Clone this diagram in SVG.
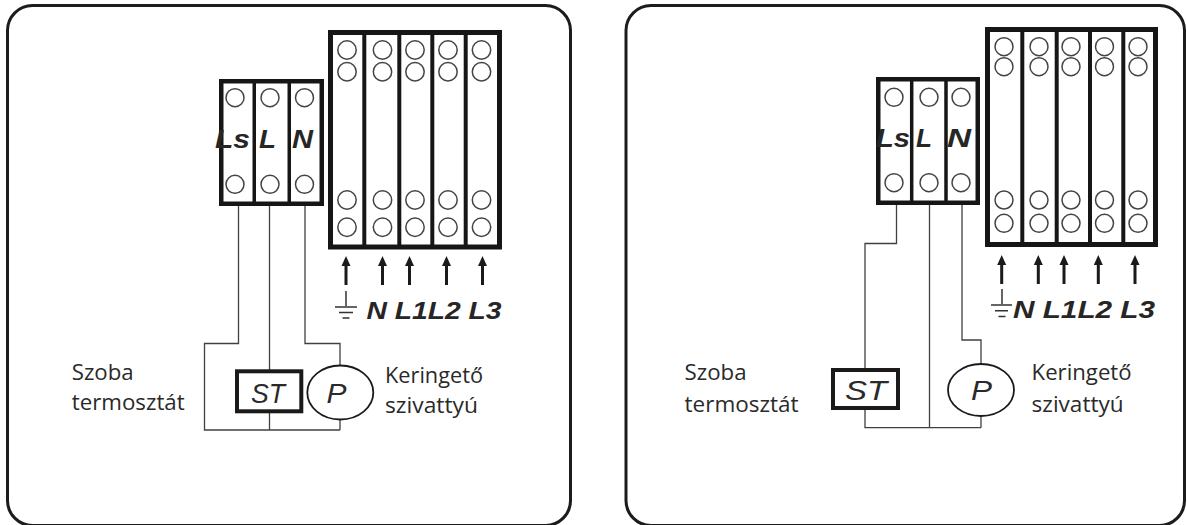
<svg xmlns="http://www.w3.org/2000/svg" width="1187" height="525" viewBox="0 0 1187 525">
<defs>
<style>
.panel{fill:none;stroke:#1c1c1c;stroke-width:3}
.wire{fill:none;stroke:#404040;stroke-width:1.3}
.hole{fill:#fff;stroke:#444;stroke-width:1.5}
.blk{fill:#161616}
.cell{fill:#fff}
.term{font-family:"Liberation Sans",Arial,sans-serif;font-weight:bold;font-style:italic;fill:#262626}
.lbl{font-family:"Open Sans","Noto Sans",sans-serif;font-size:21px;fill:#2a2a2a}
.dev{font-family:"Liberation Sans",Arial,sans-serif;font-style:italic;font-size:28px;fill:#2a2a2a}
.box{fill:#fff;stroke:#1a1a1a;stroke-width:4}
.pump{fill:#fff;stroke:#1a1a1a;stroke-width:1.8}
.gnd{stroke:#333;stroke-width:1.5;fill:none}
</style>
<g id="arr">
<polygon points="0,0 -4.5,10 4.5,10" fill="#1a1a1a"/>
<rect x="-1.5" y="8" width="3" height="21" fill="#1a1a1a"/>
</g>
</defs>

<g id="panel-left">
<rect class="panel" x="7.5" y="5.5" width="563" height="520" rx="25" ry="25"/>
</g>
<g id="panel-right">
<rect class="panel" x="626" y="5.5" width="558.5" height="520" rx="25" ry="25"/>
</g>

<g id="connectors">
<path class="wire" d="M238.5 206 V343.5 H204.5 V430 H340"/>
<path class="wire" d="M269.5 206 V430"/>
<path class="wire" d="M305 206 V343.5 H340 V366"/>
<path class="wire" d="M340 419 V430"/>
<path class="wire" d="M896.5 205 V243.5 H865 V427.7 H981"/>
<path class="wire" d="M929.5 205 V427.7"/>
<path class="wire" d="M962 205 V340 H981 V364"/>
<path class="wire" d="M981 416 V427.7"/>
</g>

<g id="left-small-terminal">
<rect class="blk" x="219" y="79" width="105" height="127"/>
<rect class="cell" x="223.5" y="83.5" width="29" height="118"/>
<rect class="cell" x="256" y="83.5" width="31.5" height="118"/>
<rect class="cell" x="291" y="83.5" width="28.5" height="118"/>
<circle class="hole" cx="235" cy="97.7" r="9"/>
<circle class="hole" cx="270" cy="97.7" r="9"/>
<circle class="hole" cx="304.5" cy="97.7" r="9"/>
<circle class="hole" cx="235" cy="184.3" r="9"/>
<circle class="hole" cx="270" cy="184.3" r="9"/>
<circle class="hole" cx="304.5" cy="184.3" r="9"/>
<text class="term" x="215" y="148" font-size="25" textLength="35" lengthAdjust="spacingAndGlyphs">Ls</text>
<text class="term" x="259" y="148" font-size="25" textLength="17" lengthAdjust="spacingAndGlyphs">L</text>
<text class="term" x="292" y="148" font-size="25" textLength="21" lengthAdjust="spacingAndGlyphs">N</text>
</g>

<g id="left-main-terminal">
<rect class="blk" x="328" y="30" width="174" height="219.5"/>
<rect class="cell" x="333" y="35" width="29.3" height="209.5"/>
<rect class="cell" x="366.3" y="35" width="31" height="209.5"/>
<rect class="cell" x="401.3" y="35" width="29" height="209.5"/>
<rect class="cell" x="434.3" y="35" width="29.4" height="209.5"/>
<rect class="cell" x="467.7" y="35" width="29.3" height="209.5"/>
<g>
<circle class="hole" cx="347" cy="50" r="9.2"/>
<circle class="hole" cx="382.5" cy="50" r="9.2"/>
<circle class="hole" cx="415" cy="50" r="9.2"/>
<circle class="hole" cx="448" cy="50" r="9.2"/>
<circle class="hole" cx="481.5" cy="50" r="9.2"/>
<circle class="hole" cx="347" cy="71.7" r="9.2"/>
<circle class="hole" cx="382.5" cy="71.7" r="9.2"/>
<circle class="hole" cx="415" cy="71.7" r="9.2"/>
<circle class="hole" cx="448" cy="71.7" r="9.2"/>
<circle class="hole" cx="481.5" cy="71.7" r="9.2"/>
<circle class="hole" cx="347" cy="200" r="9.2"/>
<circle class="hole" cx="382.5" cy="200" r="9.2"/>
<circle class="hole" cx="415" cy="200" r="9.2"/>
<circle class="hole" cx="448" cy="200" r="9.2"/>
<circle class="hole" cx="481.5" cy="200" r="9.2"/>
<circle class="hole" cx="347" cy="227.3" r="9.2"/>
<circle class="hole" cx="382.5" cy="227.3" r="9.2"/>
<circle class="hole" cx="415" cy="227.3" r="9.2"/>
<circle class="hole" cx="448" cy="227.3" r="9.2"/>
<circle class="hole" cx="481.5" cy="227.3" r="9.2"/>
</g>
<use href="#arr" x="346" y="256"/>
<use href="#arr" x="382.5" y="256"/>
<use href="#arr" x="409.5" y="256"/>
<use href="#arr" x="446.5" y="256"/>
<use href="#arr" x="482.5" y="256"/>
<path class="gnd" d="M346 291 V306 M335 307 H357 M339 312.5 H353 M342.5 318 H349.5"/>
<text class="term" x="366.5" y="319" font-size="23" textLength="135" lengthAdjust="spacingAndGlyphs">N L1L2 L3</text>
</g>

<g id="left-thermostat">
<rect class="box" x="237" y="371.3" width="64.3" height="40"/>
<text class="dev" x="251" y="402.7" textLength="34" lengthAdjust="spacingAndGlyphs">ST</text>
<text class="lbl" x="71.7" y="380" textLength="62" lengthAdjust="spacingAndGlyphs">Szoba</text>
<text class="lbl" x="71.7" y="410" textLength="113" lengthAdjust="spacingAndGlyphs">termosztát</text>
</g>

<g id="left-pump">
<ellipse class="pump" cx="340.3" cy="392.5" rx="33" ry="27"/>
<text class="dev" x="326.5" y="402.7" textLength="20" lengthAdjust="spacingAndGlyphs">P</text>
<text class="lbl" x="385" y="383" textLength="98" lengthAdjust="spacingAndGlyphs">Keringető</text>
<text class="lbl" x="385" y="413" textLength="93" lengthAdjust="spacingAndGlyphs">szivattyú</text>
</g>

<g id="right-small-terminal">
<rect class="blk" x="876" y="77" width="104" height="128"/>
<rect class="cell" x="880.5" y="81.5" width="29.45" height="119"/>
<rect class="cell" x="913.45" y="81.5" width="30.8" height="119"/>
<rect class="cell" x="947.75" y="81.5" width="27.75" height="119"/>
<circle class="hole" cx="894" cy="97.3" r="9"/>
<circle class="hole" cx="929" cy="97.3" r="9"/>
<circle class="hole" cx="961" cy="97.3" r="9"/>
<circle class="hole" cx="894" cy="182.7" r="9"/>
<circle class="hole" cx="929" cy="182.7" r="9"/>
<circle class="hole" cx="961" cy="182.7" r="9"/>
<text class="term" x="876" y="146.7" font-size="25" textLength="34" lengthAdjust="spacingAndGlyphs">Ls</text>
<text class="term" x="916" y="146.7" font-size="25" textLength="16" lengthAdjust="spacingAndGlyphs">L</text>
<text class="term" x="947" y="146.7" font-size="25" textLength="24" lengthAdjust="spacingAndGlyphs">N</text>
</g>

<g id="right-main-terminal">
<rect class="blk" x="985" y="27" width="173" height="220"/>
<rect class="cell" x="990" y="32" width="30.3" height="210"/>
<rect class="cell" x="1024.3" y="32" width="30.4" height="210"/>
<rect class="cell" x="1058.7" y="32" width="29.3" height="210"/>
<rect class="cell" x="1092" y="32" width="29.3" height="210"/>
<rect class="cell" x="1125.3" y="32" width="27.7" height="210"/>
<g>
<circle class="hole" cx="1004" cy="46.7" r="9"/>
<circle class="hole" cx="1039" cy="46.7" r="9"/>
<circle class="hole" cx="1071" cy="46.7" r="9"/>
<circle class="hole" cx="1104.5" cy="46.7" r="9"/>
<circle class="hole" cx="1138" cy="46.7" r="9"/>
<circle class="hole" cx="1004" cy="66.7" r="9"/>
<circle class="hole" cx="1039" cy="66.7" r="9"/>
<circle class="hole" cx="1071" cy="66.7" r="9"/>
<circle class="hole" cx="1104.5" cy="66.7" r="9"/>
<circle class="hole" cx="1138" cy="66.7" r="9"/>
<circle class="hole" cx="1004" cy="200" r="9"/>
<circle class="hole" cx="1039" cy="200" r="9"/>
<circle class="hole" cx="1071" cy="200" r="9"/>
<circle class="hole" cx="1104.5" cy="200" r="9"/>
<circle class="hole" cx="1138" cy="200" r="9"/>
<circle class="hole" cx="1004" cy="223.3" r="9"/>
<circle class="hole" cx="1039" cy="223.3" r="9"/>
<circle class="hole" cx="1071" cy="223.3" r="9"/>
<circle class="hole" cx="1104.5" cy="223.3" r="9"/>
<circle class="hole" cx="1138" cy="223.3" r="9"/>
</g>
<use href="#arr" x="1001.7" y="255"/>
<use href="#arr" x="1038.3" y="255"/>
<use href="#arr" x="1064" y="255"/>
<use href="#arr" x="1098.3" y="255"/>
<use href="#arr" x="1135" y="255"/>
<path class="gnd" d="M1002 289 V304 M991 305 H1012 M995 310.8 H1008 M998.5 316.6 H1005.5"/>
<text class="term" x="1013" y="318" font-size="23" textLength="142" lengthAdjust="spacingAndGlyphs">N L1L2 L3</text>
</g>

<g id="right-thermostat">
<rect class="box" x="833" y="370" width="65" height="38"/>
<text class="dev" x="845" y="400" textLength="42" lengthAdjust="spacingAndGlyphs">ST</text>
<text class="lbl" x="684.6" y="380" textLength="62" lengthAdjust="spacingAndGlyphs">Szoba</text>
<text class="lbl" x="684.6" y="411.7" textLength="114" lengthAdjust="spacingAndGlyphs">termosztát</text>
</g>

<g id="right-pump">
<ellipse class="pump" cx="981" cy="390" rx="33" ry="26"/>
<text class="dev" x="971" y="400" textLength="21" lengthAdjust="spacingAndGlyphs">P</text>
<text class="lbl" x="1031.6" y="380" textLength="100" lengthAdjust="spacingAndGlyphs">Keringető</text>
<text class="lbl" x="1031.6" y="411.7" textLength="92" lengthAdjust="spacingAndGlyphs">szivattyú</text>
</g>
</svg>
